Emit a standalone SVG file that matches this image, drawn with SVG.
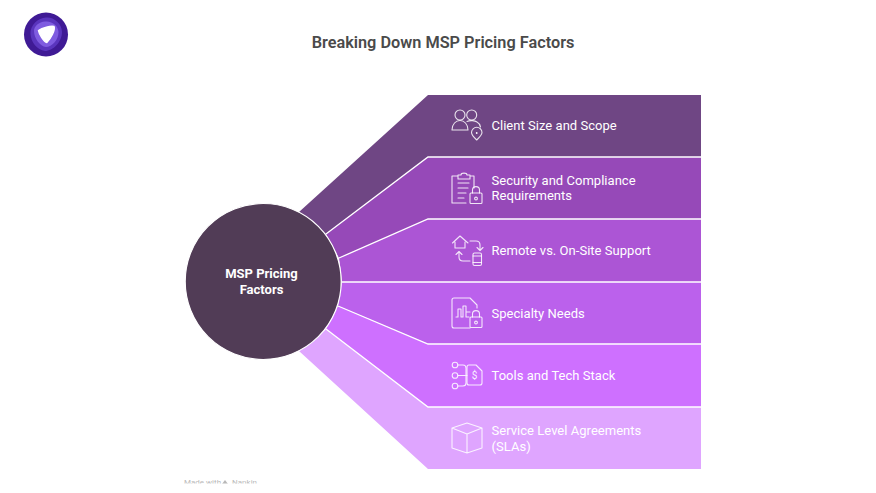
<svg xmlns="http://www.w3.org/2000/svg" width="876" height="493" viewBox="0 0 876 493">
<defs>
<clipPath id="wm"><rect x="170" y="470" width="110" height="13.5"/></clipPath>
</defs>
<style>
text{font-family:Roboto,"Liberation Sans",sans-serif}
.t{font-size:13px;font-weight:400;fill:#fff;letter-spacing:.03px}
.c{font-size:13px;font-weight:700;fill:#fff;text-anchor:middle}
.ic{fill:none;stroke:#fff;stroke-width:1.1;stroke-linecap:round;stroke-linejoin:round;opacity:.85}
.sep{stroke:#fff;stroke-width:1.3;fill:none}
</style>
<rect width="876" height="493" fill="#fff"/>
<g id="logo">
<circle cx="46" cy="34.500" r="22" fill="#3f1a95"/>
<path d="M46 17.500C53 16.500 62 23 62 32C62 42 53 51 45 51C37 50 31 42 30.500 34C30 25 38 18 46 17.500Z" fill="#5a35bd"/>
<path d="M45 21.500C52 20.500 58.500 26 58.500 32C58.500 40 52 47 46 47C40 46.500 34 38 34 31C34 26 39 22 45 21.500Z" fill="#7f5ce0"/>
<path d="M38.500 30.500C42 28 51 25.500 54 26.500C55.500 30 50.500 39 46.800 42.500C44 42 39 34 38.500 30.500Z" fill="#fff" stroke="#fff" stroke-width="1.500" stroke-linejoin="round"/>
</g>
<text x="443" y="48" text-anchor="middle" font-size="16.300" font-weight="600" fill="#4a4a4a">Breaking Down MSP Pricing Factors</text>
<g id="connectors">
<polygon id="seg1" points="428,95 701,95 701,157 428,157 326,234 299,212" fill="#6f4684"/>
<polygon id="seg2" points="428,157 701,157 701,219 428,219 339,258 326,234" fill="#9649b8"/>
<polygon id="seg3" points="428,219 701,219 701,282 428,282 342,282 339,258" fill="#ac55d5"/>
<polygon id="seg4" points="428,282 701,282 701,344 428,344 338,306 342,282" fill="#bb61ec"/>
<polygon id="seg5" points="428,344 701,344 701,407 428,407 326,329 338,306" fill="#ce70ff"/>
<polygon id="seg6" points="428,407 701,407 701,469 428,469 299,351 326,329" fill="#dfa5ff"/>
<path class="sep" d="M701 157H428L326 234M701 219H428L339 258M701 282H342M701 344H428L338 306M701 407H428L326 329"/>
</g>
<g id="center">
<circle cx="263.200" cy="281.500" r="78" fill="#513c56" stroke="#fff" stroke-width="1.200"/>
<text class="c" x="261.500" y="278">MSP Pricing</text>
<text class="c" x="261.500" y="293.500">Factors</text>
</g>
<g id="node1">
<circle class="ic" cx="460" cy="115" r="5"/>
<circle class="ic" cx="471.700" cy="115" r="5"/>
<path class="ic" d="M452 130C452 124 456 120.500 460 120.500C464 120.500 468 124 468 130Z"/>
<path class="ic" d="M467 121.500C470 120 475 120.500 477 122C479 123 480 125 480.500 127"/>
<path class="ic" d="M476.700 140C473 136.500 471.500 134.500 471.500 132.500C471.500 129.500 474 127.300 476.700 127.300C479.400 127.300 482 129.500 482 132.500C482 134.500 480.400 136.500 476.700 140Z"/>
<circle cx="476.700" cy="133" r=".9" fill="#fff"/>
<text class="t" x="491.500" y="130">Client Size and Scope</text>
</g>
<g id="node2">
<path class="ic" d="M466 203H452V176H458M470 176H474V188M458 175H461C461 172.500 467 172.500 467 175H470V179H458ZM458 183H469M458 188H468M458 193H466M458 198H464"/>
<rect class="ic" x="470" y="193" width="12" height="10.500" rx="1"/>
<path class="ic" d="M472.500 193V190C472.500 185.500 479.500 185.500 479.500 190V193"/>
<circle class="ic" cx="476" cy="198.500" r="1.400"/>
<text class="t" x="491.500" y="184.500">Security and Compliance</text>
<text class="t" x="491.500" y="200">Requirements</text>
</g>
<g id="node3">
<path class="ic" d="M452.500 243L460 236L468 243M455 242V248H465V242"/>
<path class="ic" d="M470 241H476C479 241 480 243 480 245V250M477 247.500L480 250.500L483 247.500"/>
<path class="ic" d="M470 261H463C460 261 459 259 459 257V252M456 254.500L459 251.500L462 254.500"/>
<rect class="ic" x="473" y="253" width="8.500" height="12.500" rx="1.500"/>
<path class="ic" d="M473 256H481.500M473 262.500H481.500"/>
<text class="t" x="491.500" y="255">Remote vs. On-Site Support</text>
</g>
<g id="node4">
<path class="ic" d="M470 328H454C452.500 328 452 327 452 326V300C452 299 452.500 298 454 298H470L477 305V308"/>
<path class="ic" d="M456 317H458V311M458 317V309H461V317M461 317H463V306H466V317H469M466 312H470"/>
<rect class="ic" x="470" y="317" width="12" height="10.500" rx="1"/>
<path class="ic" d="M472.500 317V314C472.500 309.500 479.500 309.500 479.500 314V317"/>
<circle class="ic" cx="476" cy="322.500" r="1.400"/>
<text class="t" x="491.500" y="318">Specialty Needs</text>
</g>
<g id="node5">
<circle class="ic" cx="455" cy="365" r="2.800"/>
<circle class="ic" cx="455" cy="375.500" r="2.800"/>
<circle class="ic" cx="455" cy="386" r="2.800"/>
<path class="ic" d="M458 365H463C465 365 466 366 466 368V383C466 385 465 386 463 386H458M458 375.500H467"/>
<path class="ic" d="M467 367C467 366 468 365 469 365H476L482 371V383C482 384 481 385 480 385H469C468 385 467 384 467 383Z"/>
<text x="474.500" y="379" text-anchor="middle" font-size="10" fill="#fff" opacity=".9">$</text>
<text class="t" x="491.500" y="380">Tools and Tech Stack</text>
</g>
<g id="node6">
<path class="ic" d="M467 423L482 428V448L467 453L452 448V428ZM452 428L467 434L482 428M467 434V453"/>
<text class="t" x="491.500" y="435">Service Level Agreements</text>
<text class="t" x="491.500" y="450.500">(SLAs)</text>
</g>
<g id="watermark" clip-path="url(#wm)" opacity=".7">
<text x="184" y="485" font-size="8" fill="#9a9a9a">Made with <tspan dx="9">Napkin</tspan></text>
<path d="M222 484L225 480L228 484Z" fill="#9a9a9a"/>
</g>
</svg>
